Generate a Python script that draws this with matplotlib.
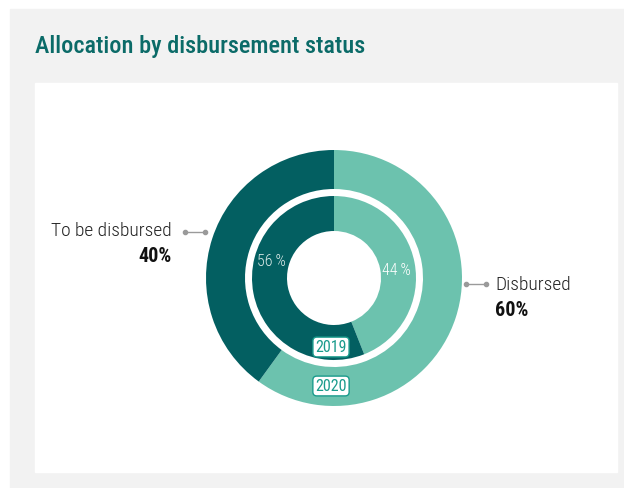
import matplotlib
matplotlib.use("Agg")
import matplotlib.pyplot as plt
from matplotlib.patches import Rectangle

# data
categories = ["Disbursed", "To be disbursed"]
share_2020 = [60, 40]
share_2019 = [44, 56]
years = ["2020", "2019"]

dark = "#035f61"
light = "#6cc2ae"
teal_text = "#0b6b68"
plt.rcParams["font.family"] = ["Roboto Condensed", "Archivo Narrow", "PT Sans Narrow", "DejaVu Sans"]

W, H = 624, 489
fig = plt.figure(figsize=(W / 100, H / 100), dpi=100)
ax = fig.add_axes([0, 0, 1, 1])

def Y(y):
    return H - y

cx, cy = 334, Y(279)

# outer ring (2020) and inner ring (2019)
ax.pie(share_2020, colors=[light, dark], startangle=90, counterclock=False,
       radius=128, center=(cx, cy), wedgeprops=dict(width=39, linewidth=0))
ax.pie(share_2019, colors=[light, dark], startangle=90, counterclock=False,
       radius=82, center=(cx, cy), wedgeprops=dict(width=35, linewidth=0))

# backgrounds
ax.add_patch(Rectangle((10, 0), W - 10, Y(10), color="#f2f2f2", zorder=-3))
ax.add_patch(Rectangle((35, Y(473)), 617 - 35, 473 - 84, color="white", zorder=-2))

ax.set_xlim(0, W)
ax.set_ylim(0, H)
ax.set_aspect("equal")
ax.axis("off")

ax.text(35, Y(47), "Allocation by disbursement status", fontsize=17.5, color=teal_text,
        fontweight="medium", va="center", ha="left")

# inner ring percentages
ax.text(271, Y(262), f"{share_2019[1]}\u2009%", fontsize=11.5, color="#d8e8e6", ha="center",
        va="center", fontweight="light")
ax.text(396, Y(271), f"{share_2019[0]}\u2009%", fontsize=11.5, color="white", ha="center",
        va="center", fontweight="light")

# year tags
box = dict(boxstyle="round,pad=0.15,rounding_size=0.25", fc="white", ec="#1a9b8c", lw=1)
ax.text(cx - 3, Y(348), years[1], fontsize=11.5, color="#1a9b8c", ha="center", va="center", bbox=box)
ax.text(cx - 3, Y(387), years[0], fontsize=11.5, color="#1a9b8c", ha="center", va="center", bbox=box)

# category labels with connectors
grey = "#9a9a9a"
ax.plot([185, 205], [Y(233), Y(233)], color=grey, lw=1, marker="o", ms=3)
ax.text(172, Y(231), categories[1], fontsize=14, color="#222222", ha="right", va="center",
        fontweight="light")
ax.text(172, Y(257), f"{share_2020[1]}%", fontsize=14.5, color="#111111", ha="right", va="center",
        fontweight="bold")

ax.plot([466, 486], [Y(285), Y(285)], color=grey, lw=1, marker="o", ms=3)
ax.text(495, Y(285), categories[0], fontsize=14, color="#222222", ha="left", va="center",
        fontweight="light")
ax.text(495, Y(311), f"{share_2020[0]}%", fontsize=14.5, color="#111111", ha="left", va="center",
        fontweight="bold")

fig.savefig("out.png", dpi=100)
